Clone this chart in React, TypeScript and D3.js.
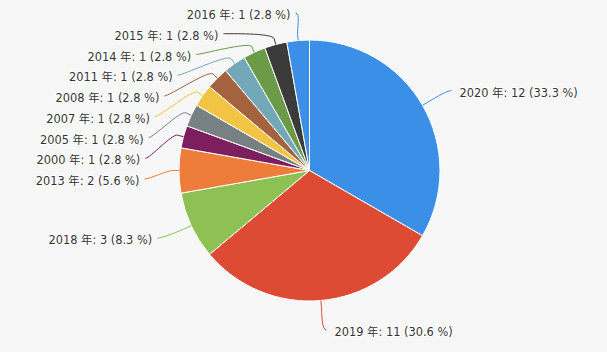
import React, { useEffect, useRef } from 'react';
import * as d3 from 'd3';

const years = ['2020', '2019', '2018', '2013', '2000', '2005', '2007', '2008', '2011', '2014', '2015', '2016'];
const counts = [12, 11, 3, 2, 1, 1, 1, 1, 1, 1, 1, 1];
const colors = [
  '#3c8fe7', '#dd4b34', '#8dc153', '#ee7c3b', '#7d1f5e', '#778083',
  '#f2c443', '#a4623f', '#73a8b8', '#6b9a49', '#3b3b3b', '#3c8fe7',
];

const W = 607;
const H = 352;

const App = () => {
  const ref = useRef(null);

  useEffect(() => {
    const svg = d3.select(ref.current);
    svg.selectAll('*').remove();

    const cx = 309.5;
    const cy = 170.5;
    const r = 130.5;
    const labelR = 160; // natural label distance
    const labelRX = 165; // radius used for x of distributed labels
    const spacing = 20.75;
    const topBound = 13;
    const bottomBound = 340;

    svg.append('rect').attr('width', W).attr('height', H).attr('fill', '#f7f7f7');

    const total = d3.sum(counts);
    const data = years.map((y, i) => ({ year: y, count: counts[i], color: colors[i] }));
    const arcs = d3.pie().value(d => d.count).sort(null)(data);
    const arc = d3.arc().innerRadius(0).outerRadius(r);

    const g = svg.append('g');
    g.selectAll('path')
      .data(arcs)
      .enter()
      .append('path')
      .attr('transform', `translate(${cx},${cy})`)
      .attr('d', arc)
      .attr('fill', d => d.data.color)
      .attr('stroke', '#ffffff')
      .attr('stroke-width', 1)
      .attr('stroke-linejoin', 'round');

    // label layout
    const labels = arcs.map(a => {
      const mid = (a.startAngle + a.endAngle) / 2;
      return {
        a,
        mid,
        left: mid > Math.PI,
        natY: cy - Math.cos(mid) * labelR,
        natX: cx + Math.sin(mid) * labelR,
        y: 0,
        x: 0,
      };
    });

    const distribute = side => {
      const items = side.slice().sort((p, q) => p.natY - q.natY);
      let groups = items.map(it => ({ items: [it], top: it.natY }));
      const place = grp => {
        const n = grp.items.length;
        const mean = d3.mean(grp.items, d => d.natY);
        let top = mean - ((n - 1) * spacing) / 2;
        top = Math.max(topBound, Math.min(bottomBound - (n - 1) * spacing, top));
        grp.top = top;
      };
      groups.forEach(place);
      let merged = true;
      while (merged) {
        merged = false;
        for (let i = 0; i < groups.length - 1; i++) {
          const a = groups[i];
          const b = groups[i + 1];
          if (a.top + a.items.length * spacing > b.top) {
            const grp = { items: a.items.concat(b.items), top: 0 };
            place(grp);
            groups.splice(i, 2, grp);
            merged = true;
            break;
          }
        }
      }
      groups.forEach(grp => grp.items.forEach((it, k) => { it.y = grp.top + k * spacing; }));
    };
    distribute(labels.filter(l => l.left));
    distribute(labels.filter(l => !l.left));

    labels.forEach(l => {
      const dy = l.y - cy;
      if (Math.abs(dy) > labelR * 0.92) {
        l.x = l.natX + (l.left ? 0 : 3);
      } else {
        const d = l.y - 4 - cy;
        const dx = Math.sqrt(Math.max(0, labelRX * labelRX - d * d));
        l.x = cx + (l.left ? -dx : dx);
      }
    });

    const lab = svg.append('g');
    labels.forEach(l => {
      const s = Math.sin(l.mid);
      const c = -Math.cos(l.mid);
      const tx = cx + s * r;
      const ty = cy + c * r;
      const bx = cx + s * (r + 6);
      const by = cy + c * (r + 6);
      const p = d3.path();
      p.moveTo(l.x, l.y);
      p.bezierCurveTo(l.x + (l.left ? 5 : -5), l.y, 2 * bx - tx, 2 * by - ty, bx, by);
      p.lineTo(tx, ty);
      lab.append('path')
        .attr('d', p.toString())
        .attr('fill', 'none')
        .attr('stroke', l.a.data.color)
        .attr('stroke-width', 1);

      const pct = (l.a.data.count / total) * 100;
      lab.append('text')
        .attr('x', l.left ? l.x - 5 : l.x + 8)
        .attr('y', l.y + 2)
        .attr('dominant-baseline', 'central')
        .attr('text-anchor', l.left ? 'end' : 'start')
        .attr('font-family', '"DejaVu Sans", "Noto Sans CJK JP", sans-serif')
        .attr('font-size', '11.4px')
        .attr('fill', '#333333')
        .attr('stroke', '#ffffff')
        .attr('stroke-width', 2)
        .attr('stroke-linejoin', 'round')
        .attr('paint-order', 'stroke')
        .text(`${l.a.data.year} 年: ${l.a.data.count} (${pct.toFixed(1)} %)`);
    });
  }, []);

  return <svg ref={ref} width={W} height={H} style={{ position: 'absolute', left: 0, top: 0 }}></svg>;
};

export default App;
